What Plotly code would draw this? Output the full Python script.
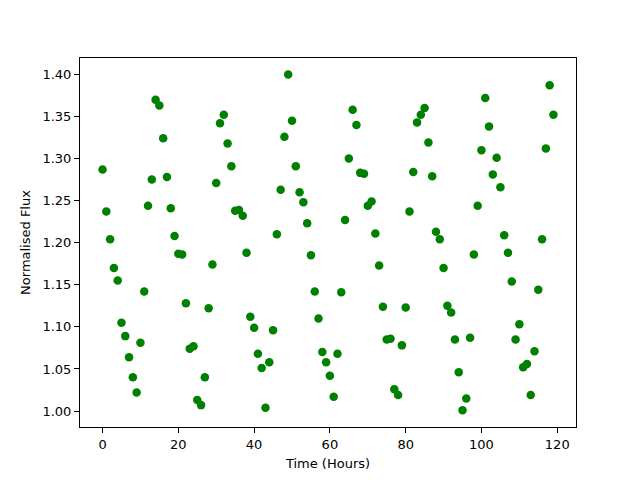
import plotly.graph_objects as go

hours = list(range(120))
flux = [
    1.287, 1.237, 1.204, 1.170, 1.155, 1.105, 1.089, 1.064, 1.040, 1.022,
    1.081, 1.142, 1.244, 1.275, 1.370, 1.363, 1.324, 1.278, 1.241, 1.208,
    1.187, 1.186, 1.128, 1.074, 1.077, 1.013, 1.007, 1.040, 1.122, 1.174,
    1.271, 1.342, 1.352, 1.318, 1.291, 1.238, 1.239, 1.232, 1.188, 1.112,
    1.099, 1.068, 1.051, 1.004, 1.058, 1.096, 1.210, 1.263, 1.326, 1.400,
    1.345, 1.291, 1.260, 1.248, 1.223, 1.185, 1.142, 1.110, 1.070, 1.058,
    1.042, 1.017, 1.068, 1.141, 1.227, 1.300, 1.358, 1.340, 1.283, 1.282,
    1.244, 1.249, 1.211, 1.173, 1.124, 1.085, 1.086, 1.026, 1.019, 1.078,
    1.123, 1.237, 1.284, 1.343, 1.352, 1.360, 1.319, 1.279, 1.213, 1.204,
    1.170, 1.125, 1.117, 1.085, 1.046, 1.001, 1.015, 1.087, 1.186, 1.244,
    1.310, 1.372, 1.338, 1.281, 1.301, 1.266, 1.209, 1.188, 1.154, 1.085,
    1.103, 1.052, 1.056, 1.019, 1.071, 1.144, 1.204, 1.312, 1.387, 1.352,
]

x_ticks = [0, 20, 40, 60, 80, 100, 120]
y_ticks = [1.00, 1.05, 1.10, 1.15, 1.20, 1.25, 1.30, 1.35, 1.40]

fig = go.Figure(go.Scatter(
    x=hours, y=flux, mode="markers",
    marker=dict(color="green", size=8.5, line=dict(width=0)),
))

axis_common = dict(
    showline=True, linecolor="black", linewidth=1, mirror=True,
    ticks="outside", ticklen=5, tickwidth=1, tickcolor="black",
    showgrid=False, zeroline=False, automargin=False,
    tickfont=dict(family="DejaVu Sans", size=13, color="black"),
    title_font=dict(family="DejaVu Sans", size=13, color="black"),
)

fig.update_layout(
    width=640, height=480,
    margin=dict(l=72, r=72, t=50, b=61),
    paper_bgcolor="white", plot_bgcolor="white",
    showlegend=False,
    xaxis=dict(range=[-5.95, 124.95], tickvals=x_ticks,
               title=dict(text="Time (Hours)", standoff=8), **axis_common),
    yaxis=dict(range=[0.9810, 1.4195], tickvals=y_ticks, tickformat=".2f",
               title=dict(text="Normalised Flux", standoff=8), **axis_common),
)

fig.write_html("out.html")
